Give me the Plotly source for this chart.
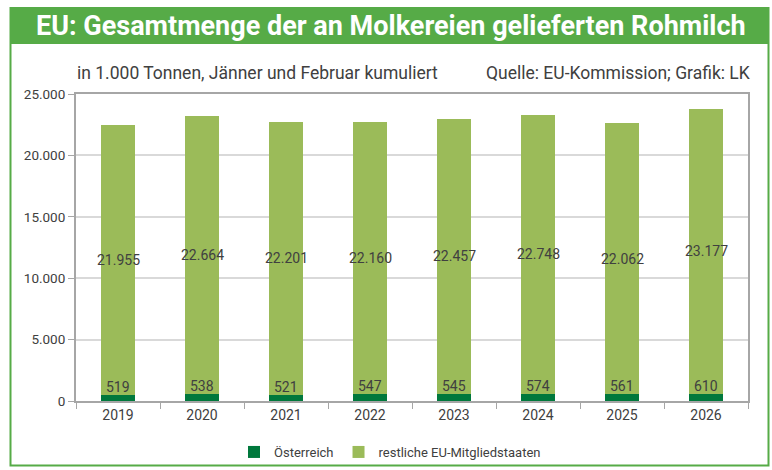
import plotly.graph_objects as go

years = ["2019", "2020", "2021", "2022", "2023", "2024", "2025", "2026"]
oesterreich = [519, 538, 521, 547, 545, 574, 561, 610]
restliche = [21955, 22664, 22201, 22160, 22457, 22748, 22062, 23177]
y_ticks = [0, 5000, 10000, 15000, 20000, 25000]

W, H = 772, 470
FONT = "Roboto, Liberation Sans, sans-serif"
TXT = "#404040"
DARK = "#00783C"
LIGHT = "#9BBB59"
FRAME = "#56AB47"


def fmt(v):
    return f"{v:,}".replace(",", ".")


def px(x):
    return x / W


def py(y):
    return 1 - y / H


fig = go.Figure()
fig.add_trace(go.Bar(x=years, y=oesterreich, name="Österreich", marker_color=DARK,
                     marker_line_width=0))
fig.add_trace(go.Bar(x=years, y=restliche, name="restliche EU-Mitgliedstaaten",
                     marker_color=LIGHT, marker_line_width=0))

annotations = []
for i, (a, r) in enumerate(zip(oesterreich, restliche)):
    annotations.append(dict(x=i, y=a, xref="x", yref="y", text=fmt(a), showarrow=False,
                            yanchor="bottom", yshift=-2, font=dict(family=FONT, size=14, color=TXT)))
    annotations.append(dict(x=i, y=a + r / 2, xref="x", yref="y", text=fmt(r), showarrow=False,
                            yanchor="middle", font=dict(family=FONT, size=14, color=TXT)))

annotations.append(dict(x=px(391), y=py(26), xref="paper", yref="paper",
                        text="<b>EU: Gesamtmenge der an Molkereien gelieferten Rohmilch</b>",
                        showarrow=False, xanchor="center", yanchor="middle",
                        font=dict(family=FONT, size=27, color="white")))
annotations.append(dict(x=px(75), y=py(73), xref="paper", yref="paper",
                        text="in 1.000 Tonnen, Jänner und Februar kumuliert",
                        showarrow=False, xanchor="left", yanchor="middle",
                        font=dict(family=FONT, size=17.5, color=TXT)))
annotations.append(dict(x=px(752), y=py(73), xref="paper", yref="paper",
                        text="Quelle: EU-Kommission; Grafik: LK",
                        showarrow=False, xanchor="right", yanchor="middle",
                        font=dict(family=FONT, size=17.5, color=TXT)))

shapes = [
    dict(type="rect", xref="paper", yref="paper", x0=px(10.5), x1=px(768.5), y0=py(465.5), y1=py(8),
         line=dict(color=FRAME, width=2), fillcolor="rgba(0,0,0,0)", layer="below"),
    dict(type="rect", xref="paper", yref="paper", x0=px(10), x1=px(769), y0=py(44), y1=py(8),
         line=dict(width=0), fillcolor=FRAME, layer="below"),
]

fig.update_layout(
    width=W, height=H, autosize=False,
    margin=dict(l=0, r=0, t=0, b=0, autoexpand=False),
    paper_bgcolor="white", plot_bgcolor="white",
    barmode="stack", bargap=0.6,
    separators=",.",
    font=dict(family=FONT, size=14, color=TXT),
    showlegend=True,
    legend=dict(orientation="h", x=px(390), xanchor="center", y=py(452), yanchor="middle",
                font=dict(family=FONT, size=13, color=TXT), traceorder="normal",
                itemwidth=30, bgcolor="rgba(0,0,0,0)"),
    annotations=annotations,
    shapes=shapes,
    xaxis=dict(domain=[px(76), px(748)], type="category", range=[-0.5, 7.5],
               automargin=False, showline=True, linecolor="#A6A6A6",
               linewidth=2, mirror=True, ticks="outside", tickson="boundaries", ticklen=6,
               tickcolor="#A6A6A6", tickfont=dict(family=FONT, size=14, color=TXT), showgrid=False,
               tickangle=0, fixedrange=True),
    yaxis=dict(domain=[py(401), py(94)], range=[0, 25000], tickvals=y_ticks,
               automargin=False,
               tickformat=",d", showline=True, linecolor="#A6A6A6", linewidth=2, mirror=True,
               ticks="outside", ticklen=6, tickcolor="#A6A6A6", showgrid=True,
               gridcolor="#D9D9D9", gridwidth=1.5, zeroline=False,
               tickfont=dict(family=FONT, size=13.5, color=TXT), fixedrange=True),
)

fig.write_html("out.html", config={"displayModeBar": False},
               post_script="document.body.style.margin='0';document.body.style.overflow='hidden';")
